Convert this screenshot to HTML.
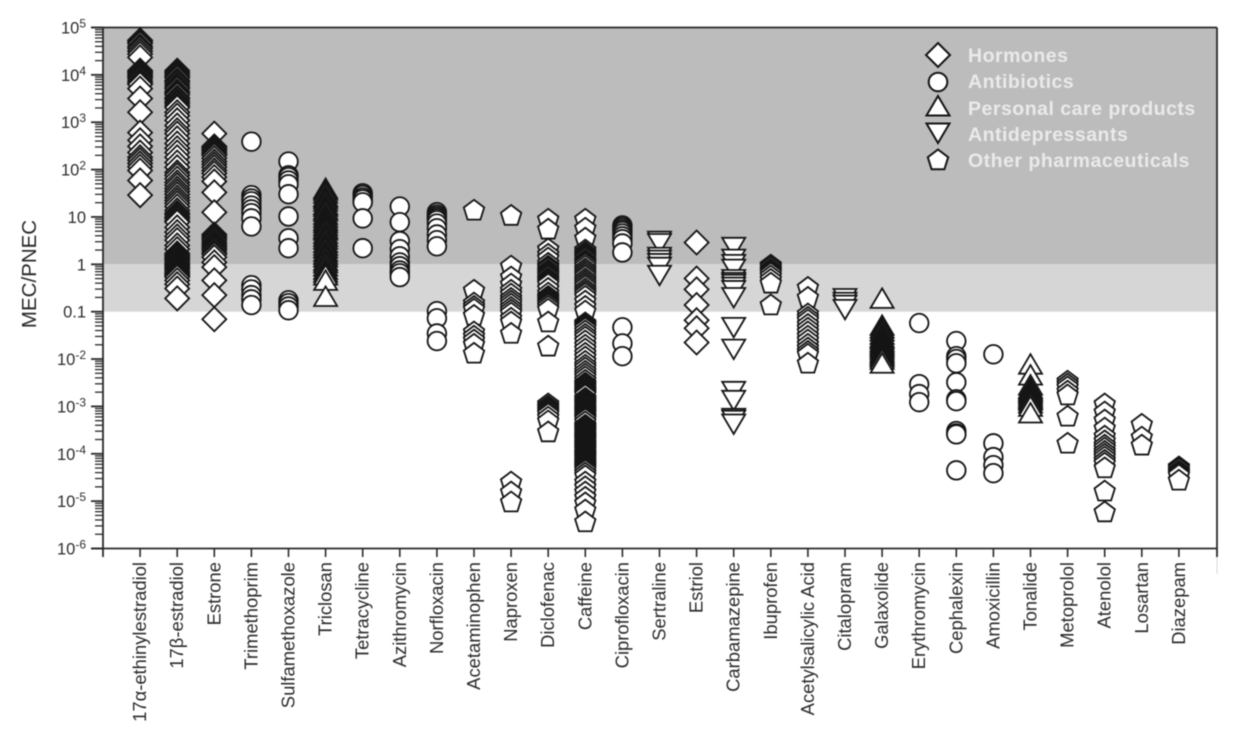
<!DOCTYPE html>
<html lang="en">
<head>
<meta charset="utf-8">
<title>MEC/PNEC chart</title>
<style>
html,body{margin:0;padding:0;background:#fff;}
#chart{display:block;width:1243px;height:737px;filter:blur(0.45px);}
text{font-family:"Liberation Sans",sans-serif;}
</style>
</head>
<body>
<svg id="chart" xmlns="http://www.w3.org/2000/svg" width="1243" height="737" viewBox="0 0 1243 737"></svg>
<script>
const categories = ["17α-ethinylestradiol","17β-estradiol","Estrone","Trimethoprim","Sulfamethoxazole","Triclosan","Tetracycline","Azithromycin","Norfloxacin","Acetaminophen","Naproxen","Diclofenac","Caffeine","Ciprofloxacin","Sertraline","Estriol","Carbamazepine","Ibuprofen","Acetylsalicylic Acid","Citalopram","Galaxolide","Erythromycin","Cephalexin","Amoxicillin","Tonalide","Metoprolol","Atenolol","Losartan","Diazepam"];
const categoryGroups = ["hormone","hormone","hormone","antibiotic","antibiotic","care","antibiotic","antibiotic","antibiotic","other","other","other","other","antibiotic","antidepressant","hormone","antidepressant","other","other","antidepressant","care","antibiotic","antibiotic","antibiotic","care","other","other","other","other"];
const legendLabels = ["Hormones","Antibiotics","Personal care products","Antidepressants","Other pharmaceuticals"];
const legendGroups = ["hormone","antibiotic","care","antidepressant","other"];
const yTickExponents = [5,4,3,2,1,0,-1,-2,-3,-4,-5,-6];
const yTickBases = ["10","10","10","10","10","1","0.1","10","10","10","10","10"];
const yTickSups = ["5","4","3","2","","","","-2","-3","-4","-5","-6"];
const yBandEdges = [5,0,-1];

// Each series holds log10(MEC/PNEC), highest first.
const ethinylestradiol = [4.73,4.7,4.66,4.6,4.56,4.5,4.44,4.37,4.09,4.06,4.03,3.99,3.96,3.92,3.87,3.83,3.8,3.71,3.5,3.21,2.78,2.62,2.49,2.36,2.26,2.2,2.13,2.06,1.98,1.77,1.46];
const estradiol = [4.09,4.05,4.01,3.97,3.94,3.88,3.85,3.8,3.75,3.71,3.65,3.62,3.58,3.52,3.49,3.44,3.4,3.35,3.31,3.21,3.14,3.04,2.93,2.83,2.76,2.66,2.55,2.45,2.36,2.26,2.15,2.05,1.94,1.88,1.81,1.73,1.67,1.6,1.54,1.48,1.41,1.35,1.29,1.22,1.14,1.08,1.05,1,.97,.92,.89,.78,.68,.59,.51,.4,.32,.23,.2,.17,.14,.11,.08,.04,.01,-.02,-.05,-.08,-.11,-.15,-.18,-.21,-.24,-.27,-.34,-.42,-.51,-.72];
const estrone = [2.76,2.49,2.46,2.43,2.4,2.36,2.33,2.3,2.24,2.17,2.11,2.05,1.98,1.92,1.84,1.75,1.52,1.1,.63,.59,.55,.51,.46,.42,.38,.34,.3,.25,.21,.15,.04,-.06,-.34,-.65,-1.16];
const trimethoprim = [2.59,1.46,1.39,1.33,1.24,1.16,1.08,.97,.8,-.44,-.53,-.65,-.74,-.86];
const sulfamethoxazole = [2.17,1.88,1.84,1.77,1.69,1.48,1.01,.55,.34,-.76,-.82,-.89,-.97];
const triclosan = [1.58,1.54,1.48,1.41,1.37,1.31,1.24,1.2,1.14,1.1,1.03,.97,.91,.86,.8,.74,.7,.63,.57,.51,.44,.38,.32,.25,.19,.13,.06,.01,-.06,-.13,-.19,-.25,-.36,-.7];
const tetracycline = [1.5,1.46,1.41,1.37,1.31,.97,.34];
const azithromycin = [1.22,.89,.49,.32,.17,.04,-.04,-.13,-.19,-.27];
const norfloxacin = [1.1,1.05,1.01,.97,.93,.86,.76,.63,.51,.38,-.99,-1.14,-1.46,-1.62];
const acetaminophen = [1.14,-.55,-.82,-.89,-.95,-1.08,-1.43,-1.52,-1.6,-1.69,-1.88];
const naproxen = [1.03,-.04,-.27,-.42,-.55,-.63,-.72,-.78,-.84,-.91,-.97,-1.03,-1.14,-1.22,-1.46,-4.6,-4.81,-5.02];
const diclofenac = [.95,.74,.32,.21,.13,.02,-.04,-.08,-.13,-.17,-.21,-.25,-.3,-.34,-.38,-.42,-.51,-.61,-.68,-.72,-.76,-.8,-.84,-.89,-.95,-1.22,-1.73,-2.95,-3,-3.04,-3.08,-3.12,-3.16,-3.23,-3.31,-3.54];
const caffeine = [.95,.76,.55,.3,.25,.21,.17,.13,.08,.04,0.01,-.04,-.1,-.15,-.2,-.25,-.31,-.36,-.41,-.46,-.52,-.57,-.62,-.68,-.78,-.89,-.99,-1.24,-1.27,-1.29,-1.32,-1.35,-1.41,-1.48,-1.54,-1.62,-1.71,-1.79,-1.88,-1.96,-2.05,-2.13,-2.19,-2.26,-2.32,-2.38,-2.45,-2.51,-2.54,-2.57,-2.6,-2.64,-2.67,-2.7,-2.73,-2.76,-2.83,-2.86,-2.89,-2.92,-2.95,-2.98,-3.02,-3.05,-3.08,-3.11,-3.14,-3.17,-3.21,-3.24,-3.27,-3.33,-3.4,-3.43,-3.46,-3.49,-3.52,-3.55,-3.59,-3.62,-3.65,-3.68,-3.71,-3.74,-3.78,-3.81,-3.84,-3.87,-3.9,-3.93,-3.97,-4,-4.03,-4.06,-4.09,-4.12,-4.16,-4.19,-4.22,-4.25,-4.28,-4.31,-4.35,-4.41,-4.47,-4.6,-4.7,-4.81,-4.92,-5.04,-5.19,-5.44];
const ciprofloxacin = [.82,.78,.74,.7,.65,.59,.53,.44,.25,-1.33,-1.67,-1.94];
const sertraline = [.51,.46,.17,.11,.04,-.04,-.21];
const estriol = [.46,-.3,-.53,-.86,-1.18,-1.35,-1.65];
const carbamazepine = [.38,.13,.02,-.08,-.3,-.36,-.4,-.46,-.53,-.68,-1.31,-1.77,-2.66,-2.85,-3.23,-3.27,-3.35];
const ibuprofen = [-.02,-.06,-.11,-.15,-.19,-.25,-.32,-.4,-.86];
const acetylsalicylicAcid = [-.49,-.7,-1.05,-1.12,-1.18,-1.27,-1.35,-1.43,-1.52,-1.6,-1.69,-1.77,-1.84,-1.9,-2.09];
const citalopram = [-.7,-.78,-.84,-.93];
const galaxolide = [-.74,-1.31,-1.37,-1.43,-1.5,-1.56,-1.6,-1.65,-1.69,-1.73,-1.77,-1.81,-1.86,-1.9,-1.94,-1.98,-2.03,-2.11];
const erythromycin = [-1.24,-2.53,-2.74,-2.91];
const cephalexin = [-1.62,-1.94,-2,-2.09,-2.49,-2.85,-2.89,-3.52,-3.57,-3.59,-4.35];
const amoxicillin = [-1.9,-3.78,-4.07,-4.24,-4.41];
const tonalide = [-2.13,-2.36,-2.57,-2.64,-2.68,-2.72,-2.76,-2.81,-2.85,-2.89,-2.95,-3.02,-3.16];
const metoprolol = [-2.47,-2.53,-2.59,-2.68,-2.76,-3.21,-3.78];
const atenolol = [-2.95,-3.12,-3.29,-3.46,-3.63,-3.73,-3.82,-3.88,-3.95,-4.01,-4.07,-4.14,-4.2,-4.3,-4.79,-5.23];
const losartan = [-3.38,-3.65,-3.82];
const diazepam = [-4.28,-4.32,-4.37,-4.41,-4.45,-4.56];
const seriesValues = [ethinylestradiol,estradiol,estrone,trimethoprim,sulfamethoxazole,triclosan,tetracycline,azithromycin,norfloxacin,acetaminophen,naproxen,diclofenac,caffeine,ciprofloxacin,sertraline,estriol,carbamazepine,ibuprofen,acetylsalicylicAcid,citalopram,galaxolide,erythromycin,cephalexin,amoxicillin,tonalide,metoprolol,atenolol,losartan,diazepam];

const SVGNS = "http://www.w3.org/2000/svg";
const svg = document.getElementById("chart");
const plotLeft = 103, plotRight = 1217, plotTop = 27.5, plotBottom = 548.5;
const axisColor = "#2a2a2a", markColor = "#151515";

function yScale(exp){ return plotTop + (5 - exp) * (plotBottom - plotTop) / 11; }
function xScale(i){ return plotLeft + 37.1 * (i + 1); }

function make(tag, attrs, parent){
  const el = document.createElementNS(SVGNS, tag);
  for (const k in attrs) el.setAttribute(k, attrs[k]);
  (parent || svg).appendChild(el);
  return el;
}
function markerShape(group, x, y, parent){
  const style = {fill:"#fff", stroke:markColor, "stroke-width":1.8, "stroke-linejoin":"miter"};
  let pts;
  if (group === "antibiotic") {
    return make("circle", Object.assign({cx:x, cy:y, r:9.3}, style), parent);
  } else if (group === "hormone") {
    pts = [[0,-12],[12,0],[0,12],[-12,0]];
  } else if (group === "care") {
    pts = [[0,-11],[11.5,8.5],[-11.5,8.5]];
  } else if (group === "antidepressant") {
    pts = [[0,11],[11.5,-8.5],[-11.5,-8.5]];
  } else {
    pts = [[0,-10.5],[10.2,-2.8],[6.4,9.3],[-6.4,9.3],[-10.2,-2.8]];
  }
  const s = pts.map(p => (x + p[0]).toFixed(2) + "," + (y + p[1]).toFixed(2)).join(" ");
  return make("polygon", Object.assign({points:s}, style), parent);
}

// Shaded bands
const bandColors = ["#bcbcbc","#d6d6d6"];
const bandNames = ["above-one-band","between-tenth-and-one-band"];
bandColors.forEach(function(c, i){
  const r = make("rect", {x:plotLeft, y:yScale(yBandEdges[i]), width:plotRight-plotLeft, height:yScale(yBandEdges[i+1])-yScale(yBandEdges[i]), fill:c});
  
  
});

// Y ticks
const yAxisGroup = make("g", {});


yTickExponents.forEach(function(exp, i){
  const y = yScale(exp);
  const major = make("line", {x1:91, x2:plotLeft, y1:y, y2:y, stroke:axisColor, "stroke-width":1.8}, yAxisGroup);
  
  
  if (i < yTickExponents.length - 1) {
    for (let m = 9; m >= 2; m--) {
      const my = yScale(exp - 1 + Math.log10(m));
      const minor = make("line", {x1:95, x2:plotLeft, y1:my, y2:my, stroke:axisColor, "stroke-width":1.3}, yAxisGroup);
      
      
    }
  }
  const t = make("text", {x:86, y:y+6, "text-anchor":"end", "font-size":16.5, fill:"#2e2e2e"}, yAxisGroup);
  
  
  t.appendChild(document.createTextNode(yTickBases[i]));
  if (yTickSups[i]) {
    const s = make("tspan", {"font-size":12, dy:-6}, t);
    s.textContent = yTickSups[i];
  }
});

// Frame
const frameLines = [
  [91,plotTop,plotRight,plotTop,"top-border"],
  [plotRight,plotTop,plotRight,557,"right-border"],
  [91,plotBottom,plotRight,plotBottom,"x-axis-line"],
  [plotLeft,plotTop,plotLeft,557,"y-axis-line"]
];
frameLines.forEach(function(f){
  const l = make("line", {x1:f[0], y1:f[1], x2:f[2], y2:f[3], stroke:axisColor, "stroke-width":1.8});
  
  
});
const rightFade = make("line", {x1:plotRight, y1:557, x2:plotRight, y2:574, stroke:"#dcdcdc", "stroke-width":1});



// X ticks and labels
categories.forEach(function(name, i){
  const x = xScale(i);
  const tick = make("line", {x1:x, x2:x, y1:plotBottom, y2:557, stroke:axisColor, "stroke-width":1.6});
  
  
  const label = make("text", {x:0, y:0, transform:"translate("+(x+6)+",562) rotate(-90)", "text-anchor":"end", "font-size":18.4, fill:"#2b2b2b"});
  
  
  label.textContent = name;
});

// Points (drawn top to bottom so lower values sit on top)
seriesValues.forEach(function(values, i){
  const g = make("g", {});
  
  
  values.forEach(function(v){
    const m = markerShape(categoryGroups[i], xScale(i), yScale(v), g);
    
    
  });
});

// Y title
const yTitle = make("text", {x:0, y:0, transform:"translate(36,274) rotate(-90)", "text-anchor":"middle", "font-size":20.5, fill:"#2a2a2a"});


yTitle.textContent = "MEC/PNEC";

// Legend
const legendMarkerY = [55, 82, 107, 132, 160];
const legendTextY = [62, 88, 115, 141, 167];
const legend = make("g", {});


legendLabels.forEach(function(name, i){
  const m = markerShape(legendGroups[i], 938, legendMarkerY[i], legend);
  m.setAttribute("stroke-width", "2");
  
  
  const t = make("text", {x:968, y:legendTextY[i], "font-size":19.5, "font-weight":"bold", "letter-spacing":"0.5", fill:"#eaeaea"}, legend);
  
  
  t.textContent = name;
});
</script>
</body>
</html>
